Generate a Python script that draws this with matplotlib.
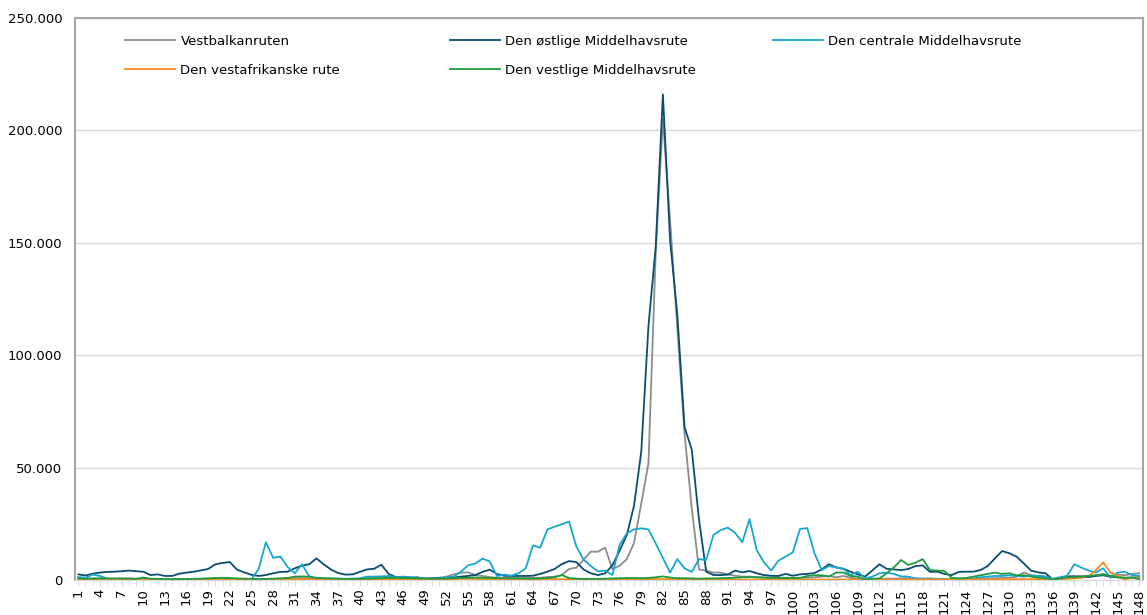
import matplotlib.pyplot as plt
import numpy as np

plt.rcParams['font.family'] = ['Liberation Sans Narrow', 'DejaVu Sans']

uger = list(range(1, 149))

vestbalkan = [800, 600, 700, 600, 500, 500, 600, 700, 600, 500,
              400, 400, 300, 300, 400, 400, 500, 500, 600, 700,
              700, 600, 500, 400, 300, 300, 400, 500, 600, 700,
              800, 900, 700, 600, 500, 500, 400, 400, 500, 600,
              700, 800, 700, 500, 400, 400, 500, 500, 600, 800,
              1000, 1500, 2500, 3200, 3400, 2200, 1800, 1300, 1000, 1000,
              1000, 900, 900, 1000, 1000, 1300, 1500, 2200, 4900, 5500,
              9000, 12600, 12600, 14400, 4800, 6300, 9300, 16500, 34000, 52000,
              145000, 205000, 160000, 112000, 65000, 32000, 4700, 4200, 3300, 3300,
              2500, 1900, 1500, 1500, 1300, 1200, 1200, 1100, 1000, 1000,
              1000, 1000, 1200, 1500, 1800, 1200, 1800, 1000, 600, 300,
              400, 500, 600, 600, 700, 800, 700, 600, 600, 500,
              500, 500, 400, 400, 500, 600, 700, 800, 900, 1000,
              1500, 3300, 2200, 1800, 1500, 300, 900, 1600, 1800, 1800,
              1800, 2100, 2700, 1800, 2400, 2100, 2700, 3000]

ostlige = [2500, 2000, 2800, 3300, 3600, 3700, 3900, 4200, 3900, 3700,
           2200, 2500, 1800, 1800, 2800, 3300, 3700, 4300, 4900, 7000,
           7600, 8000, 4600, 3400, 2300, 1800, 2200, 3000, 3600, 3700,
           5200, 6400, 7000, 9600, 7000, 4700, 3100, 2400, 2500, 3600,
           4700, 5000, 6800, 2700, 1300, 900, 1000, 1200, 600, 700,
           800, 900, 1100, 1500, 1800, 2200, 3600, 4600, 2700, 1900,
           1800, 1800, 1800, 1900, 2700, 3700, 4900, 7100, 8400, 8000,
           4700, 3000, 2200, 3000, 6500, 13000, 20000, 33000, 57000, 113000,
           148000, 216000, 151000, 118000, 68000, 58000, 27000, 3700, 2200, 2200,
           2400, 4200, 3400, 4000, 3000, 2200, 1900, 1800, 2700, 1900,
           2500, 2700, 3100, 4700, 7000, 5600, 5000, 3700, 2500, 1500,
           4200, 7000, 5000, 4700, 4400, 4900, 6200, 6500, 3600, 3700,
           2700, 2200, 3600, 3700, 3700, 4400, 6200, 9600, 12900, 11900,
           10400, 7400, 4200, 3400, 3000, 300, 900, 1500, 1500, 1200,
           1300, 1800, 2100, 1500, 1200, 1000, 1000, 1200]

centrale = [1300, 1000, 2400, 1800, 600, 400, 400, 400, 300, 500,
            400, 300, 300, 300, 300, 300, 400, 400, 400, 500,
            500, 400, 400, 300, 300, 5000, 16800, 9900, 10400, 5800,
            3000, 7000, 1600, 600, 600, 600, 600, 500, 600, 700,
            1500, 1500, 1600, 1800, 1300, 1500, 1300, 900, 600, 600,
            700, 1200, 1500, 3600, 6500, 7300, 9500, 8300, 1800, 2400,
            1900, 3000, 5200, 15400, 14400, 22500, 23700, 24800, 26000, 15000,
            9100, 6300, 3800, 4200, 2200, 15600, 20800, 22500, 23000, 22500,
            16300, 9800, 3300, 9300, 5200, 3600, 9300, 8900, 20000, 22200,
            23300, 21000, 16800, 27100, 13300, 7900, 4200, 8600, 10400, 12300,
            22700, 23100, 11900, 4400, 6200, 5600, 5000, 2200, 3700, 700,
            1500, 3000, 3300, 2700, 1600, 1500, 700, 600, 600, 500,
            500, 500, 600, 600, 700, 1200, 1500, 1800, 1800, 2100,
            1800, 1500, 1900, 1800, 1500, 600, 1200, 1900, 7000, 5500,
            4200, 3300, 5200, 1000, 3300, 3700, 2200, 1800]

vestafrikanske = [300, 300, 400, 500, 500, 400, 400, 300, 300, 200,
                  200, 200, 200, 200, 200, 200, 300, 300, 300, 300,
                  300, 200, 200, 200, 200, 200, 200, 300, 300, 300,
                  400, 400, 300, 300, 300, 200, 200, 200, 200, 200,
                  200, 300, 300, 300, 300, 200, 200, 200, 200, 200,
                  300, 300, 400, 500, 500, 500, 400, 400, 400, 300,
                  300, 300, 300, 300, 300, 400, 400, 400, 300, 300,
                  300, 300, 300, 300, 300, 400, 400, 400, 400, 400,
                  400, 400, 400, 300, 300, 300, 300, 200, 200, 200,
                  200, 200, 200, 200, 200, 200, 200, 200, 200, 200,
                  200, 200, 200, 200, 200, 200, 200, 200, 200, 200,
                  200, 200, 200, 200, 200, 200, 300, 300, 300, 300,
                  300, 300, 300, 300, 300, 300, 300, 300, 400, 400,
                  400, 400, 400, 300, 200, 200, 400, 500, 700, 1000,
                  1800, 4400, 7900, 3300, 1800, 200, 1000, 1000]

vestlige = [700, 600, 600, 700, 700, 700, 700, 600, 500, 1100,
            600, 500, 400, 400, 400, 400, 500, 600, 700, 900,
            1000, 900, 700, 600, 500, 400, 500, 600, 700, 900,
            1500, 1600, 1500, 1000, 800, 700, 600, 500, 500, 500,
            600, 700, 900, 1000, 1000, 900, 800, 700, 600, 600,
            600, 700, 800, 900, 1000, 1100, 1000, 900, 900, 800,
            700, 700, 600, 600, 700, 900, 1200, 2200, 900, 600,
            500, 500, 500, 600, 700, 800, 900, 900, 800, 900,
            1200, 1600, 1100, 800, 800, 700, 600, 700, 700, 800,
            900, 1000, 1200, 1300, 1200, 1000, 900, 900, 900, 900,
            900, 1800, 2100, 2100, 1500, 3300, 3300, 1800, 1500, 100,
            600, 700, 3000, 5600, 8900, 6700, 7700, 9300, 4400, 4200,
            4000, 1000, 700, 900, 1500, 2100, 2700, 3300, 2700, 3000,
            2100, 2100, 1500, 1000, 800, 200, 600, 1200, 1300, 1500,
            1800, 2100, 2400, 1800, 1200, 900, 1200, 300]

serier = [
    ('Vestbalkanruten', vestbalkan, '#8c8c8c'),
    ('Den østlige Middelhavsrute', ostlige, '#0a4d6e'),
    ('Den centrale Middelhavsrute', centrale, '#17a5d1'),
    ('Den vestafrikanske rute', vestafrikanske, '#f28a1e'),
    ('Den vestlige Middelhavsrute', vestlige, '#1e9a3f'),
]

fig = plt.figure(figsize=(11.47, 6.15), dpi=100)
ax = fig.add_axes([0.0654, 0.0569, 0.931, 0.9138])

linjer = {}
for navn, data, farve in serier:
    l, = ax.plot(uger, data, color=farve, lw=1.3, label=navn)
    linjer[navn] = l

ax.set_xlim(0.55, 148.5)
ax.set_ylim(0, 250000)
yt = np.arange(0, 250001, 50000)
ax.set_yticks(yt)
ax.set_yticklabels([f'{int(v):,}'.replace(',', '.') for v in yt], fontsize=9.5)
ax.yaxis.grid(True, color='#d9d9d9', lw=1)
ax.set_axisbelow(True)
ax.tick_params(axis='y', length=0, pad=9)

ax.set_xticks(uger[::3])
ax.set_xticklabels([str(u) for u in uger[::3]], rotation=90, fontsize=9.5)
ax.set_xticks(uger, minor=True)
ax.tick_params(axis='x', which='both', length=4, color='#d9d9d9', pad=2)

for s in ['left', 'top', 'right']:
    ax.spines[s].set_color('#a6a6a6')
    ax.spines[s].set_linewidth(1.5)
ax.spines['bottom'].set_color('#d9d9d9')

# legend i tre kolonner, som i Excel
kolonner = [
    (0.109, ['Vestbalkanruten', 'Den vestafrikanske rute']),
    (0.392, ['Den østlige Middelhavsrute', 'Den vestlige Middelhavsrute']),
    (0.674, ['Den centrale Middelhavsrute']),
]
for x, navne in kolonner:
    fig.legend([linjer[n] for n in navne], navne, loc='upper left',
               bbox_to_anchor=(x, 0.943), frameon=False, fontsize=9.5,
               handlelength=3.8, handletextpad=0.4, labelspacing=1.2,
               borderpad=0, borderaxespad=0)

fig.savefig('out.png', dpi=100)
